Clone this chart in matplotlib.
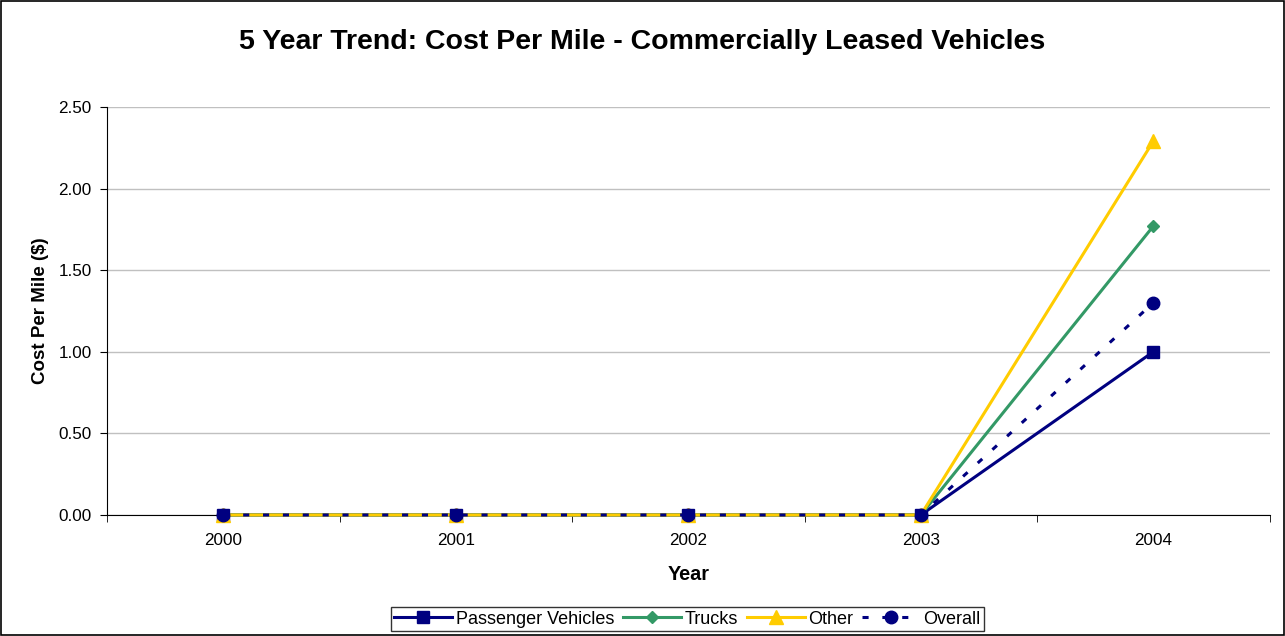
import numpy as np
import matplotlib.pyplot as plt
from matplotlib.patches import Rectangle

plt.rcParams['font.family'] = ['Liberation Sans', 'DejaVu Sans']

years = ["2000", "2001", "2002", "2003", "2004"]
passenger = [0.0, 0.0, 0.0, 0.0, 1.00]
trucks = [0.0, 0.0, 0.0, 0.0, 1.77]
other = [0.0, 0.0, 0.0, 0.0, 2.29]
overall = [0.0, 0.0, 0.0, 0.0, 1.30]

NAVY = "#000080"
GREEN = "#339966"
GOLD = "#FFCC00"

fig = plt.figure(figsize=(12.85, 6.36), dpi=100)
ax = fig.add_axes([0.0833, 0.1903, 0.9047, 0.6415])

x = np.arange(len(years))
ax.plot(x, passenger, color=NAVY, lw=2.2, marker="s", ms=9, label="Passenger Vehicles",
        zorder=3, clip_on=False)
ax.plot(x, trucks, color=GREEN, lw=2.2, marker="D", ms=6, label="Trucks", zorder=3, clip_on=False)
ax.plot(x, other, color=GOLD, lw=2.2, marker="^", ms=10, label="Other", zorder=3, clip_on=False)
ax.plot(x, overall, color=NAVY, lw=2.2, ls=(0, (2, 4.5)), marker="o", ms=9, label="Overall",
        zorder=4, clip_on=False)

ax.set_xlim(-0.5, 4.5)
ax.set_ylim(0, 2.5)
ax.set_yticks(np.arange(0, 2.51, 0.5))
ax.set_yticklabels([f"{v:.2f}" for v in np.arange(0, 2.51, 0.5)], fontsize=12.3)
ax.set_xticks(x)
ax.set_xticklabels(years, fontsize=12.3)
ax.set_xticks(np.arange(-0.5, 4.6, 1.0), minor=True)
ax.tick_params(axis="x", which="major", length=0, pad=13)
ax.tick_params(axis="x", which="minor", length=5, direction="out")
ax.tick_params(axis="y", length=5, direction="out", pad=6)
ax.grid(axis="y", color="#c0c0c0", lw=1)
ax.set_axisbelow(True)
for s in ["top", "right"]:
    ax.spines[s].set_visible(False)

ax.set_xlabel("Year", fontsize=14.3, fontweight="bold", labelpad=12)
ax.set_ylabel("Cost Per Mile ($)", fontsize=13.5, fontweight="bold", labelpad=7)
fig.text(0.5, 0.934, "5 Year Trend: Cost Per Mile - Commercially Leased Vehicles",
         ha="center", va="center", fontsize=20.5, fontweight="bold")

leg = fig.legend(loc="lower center", bbox_to_anchor=(0.535, -0.007), ncol=4, fontsize=13,
                 frameon=True, fancybox=False, edgecolor="black", handlelength=3.2,
                 handletextpad=0.2, columnspacing=0.5, borderpad=0.2)
leg.get_frame().set_linewidth(1)

fig.patches.append(Rectangle((0.001, 0.001), 0.998, 0.998, transform=fig.transFigure,
                             fill=False, edgecolor="black", lw=1.2))

fig.savefig("out.png", dpi=100)
